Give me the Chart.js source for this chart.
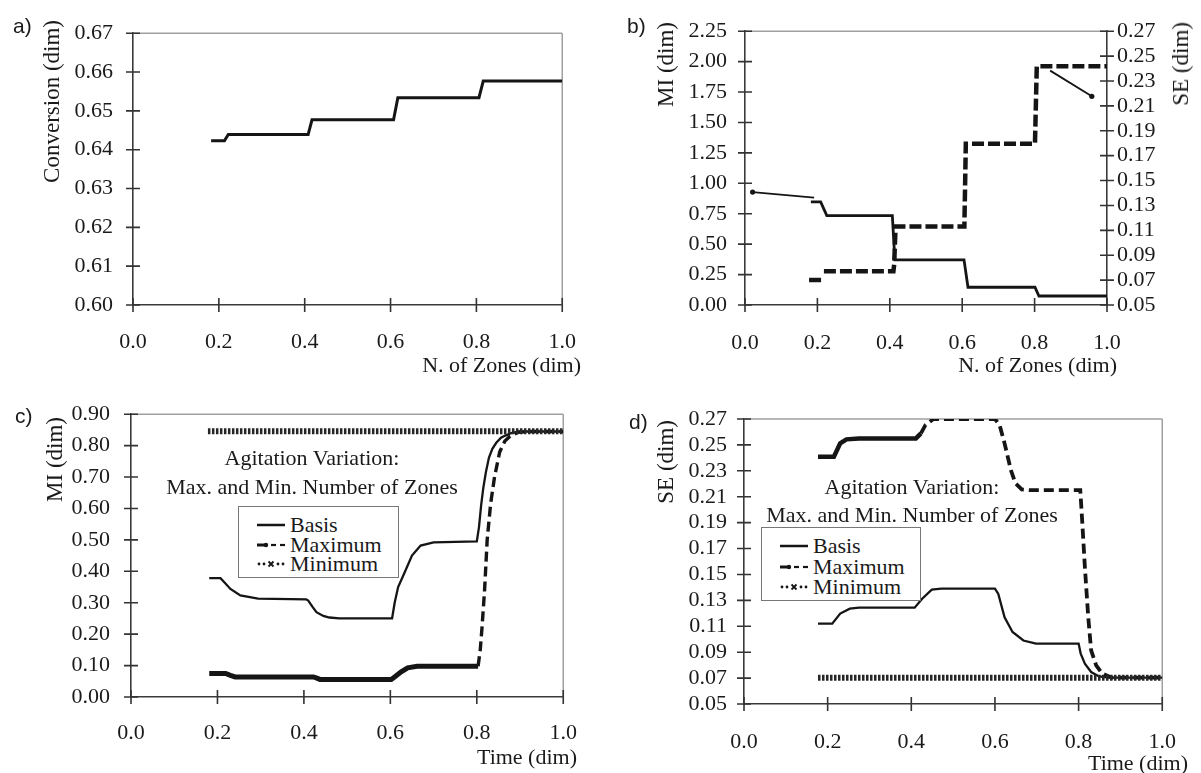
<!DOCTYPE html>
<html>
<head>
<meta charset="utf-8">
<script src="https://cdn.jsdelivr.net/npm/chart.js@4.4.0/dist/chart.umd.min.js"></script>
<style>
html,body{margin:0;padding:0;background:#fff;}
body{width:1201px;height:773px;position:relative;overflow:hidden;font-family:"Liberation Serif","Times New Roman",serif;color:#1a1a1a;}
canvas{position:absolute;}
.t{position:absolute;white-space:nowrap;font-size:22px;line-height:1;}
.c{text-align:center;}
.r{text-align:right;}
.rot{position:absolute;white-space:nowrap;font-size:23px;line-height:1;writing-mode:vertical-rl;transform:rotate(180deg);}
.lbl{position:absolute;font-family:"Liberation Sans",Arial,sans-serif;font-size:21px;line-height:1;}
.legend{position:absolute;border:1px solid #777;background:#fff;box-sizing:border-box;}
.row{position:absolute;left:0;height:22px;line-height:22px;font-size:22px;white-space:nowrap;}
.row svg{position:absolute;top:6px;}
.row span{position:absolute;}
</style>
</head>
<body>
<script>
// ---------- data ----------
// Panel a: conversion vs normalized number of zones
const aZones = [0.182, 0.213, 0.222, 0.408, 0.417, 0.607, 0.617, 0.806, 0.816, 1.0];
const aConversion = [0.6423, 0.6423, 0.6439, 0.6439, 0.6477, 0.6477, 0.6534, 0.6534, 0.6577, 0.6577];

// Panel b: MI (left axis) and SE (right axis) vs number of zones
const bZonesMI = [0.182, 0.209, 0.226, 0.407, 0.414, 0.605, 0.616, 0.801, 0.812, 1.0];
const bMI = [0.848, 0.848, 0.734, 0.734, 0.371, 0.371, 0.146, 0.146, 0.074, 0.074];
const bZonesSE = [0.177, 0.213, 0.215, 0.218, 0.410, 0.412, 0.416, 0.606, 0.610, 0.801, 0.806, 1.0];
const bSE = [0.0700, 0.0700, null, 0.0772, 0.0772, 0.0824, 0.1130, 0.1130, 0.1796, 0.1796, 0.2418, 0.2418];
const bLeader1X = [0.021, 0.191];
const bLeader1MI = [0.928, 0.882];
const bLeader2X = [0.843, 0.958];
const bLeader2MI = [1.926, 1.715];

// Panel c: MI vs time
const cBasisT = [0.181, 0.207, 0.218, 0.230, 0.253, 0.294, 0.405, 0.410, 0.420, 0.429, 0.445, 0.459, 0.482, 0.604, 0.610, 0.618, 0.632, 0.650, 0.670, 0.700, 0.800, 0.805, 0.810, 0.815, 0.821, 0.828, 0.836, 0.845, 0.856, 0.866, 0.880, 0.897, 1.0];
const cBasisMI = [0.378, 0.378, 0.362, 0.344, 0.323, 0.313, 0.311, 0.307, 0.287, 0.270, 0.258, 0.253, 0.250, 0.250, 0.300, 0.350, 0.393, 0.450, 0.482, 0.492, 0.495, 0.540, 0.610, 0.665, 0.715, 0.761, 0.790, 0.809, 0.825, 0.832, 0.840, 0.845, 0.845];
const cMaxT = [0.181, 0.219, 0.230, 0.241, 0.422, 0.430, 0.437, 0.602, 0.612, 0.625, 0.640, 0.662, 0.803, 0.808, 0.812, 0.818, 0.824, 0.832, 0.841, 0.853, 0.865, 0.877, 0.895, 0.920, 1.0];
const cMaxMI = [0.075, 0.075, 0.069, 0.064, 0.064, 0.060, 0.056, 0.056, 0.066, 0.080, 0.093, 0.098, 0.098, 0.150, 0.220, 0.340, 0.500, 0.615, 0.700, 0.780, 0.815, 0.830, 0.842, 0.845, 0.845];
const cMinT = [0.178, 1.0];
const cMinMI = [0.846, 0.846];

// Panel d: SE vs time
const dBasisT = [0.177, 0.211, 0.230, 0.253, 0.275, 0.408, 0.426, 0.449, 0.472, 0.600, 0.608, 0.623, 0.642, 0.668, 0.698, 0.800, 0.805, 0.815, 0.830, 0.849, 0.872, 1.0];
const dBasisSE = [0.1120, 0.1120, 0.1198, 0.1236, 0.1244, 0.1244, 0.1313, 0.1383, 0.1390, 0.1390, 0.1350, 0.1170, 0.1056, 0.0990, 0.0966, 0.0966, 0.0889, 0.0811, 0.0747, 0.0713, 0.0703, 0.0703];
const dMaxT = [0.177, 0.215, 0.230, 0.245, 0.275, 0.411, 0.423, 0.434, 0.453, 0.600, 0.611, 0.623, 0.638, 0.649, 0.664, 0.683, 0.804, 0.808, 0.815, 0.823, 0.830, 0.842, 0.857, 0.879, 1.0];
const dMaxSE = [0.2409, 0.2409, 0.2512, 0.2543, 0.2550, 0.2550, 0.2589, 0.2654, 0.2700, 0.2700, 0.2654, 0.2512, 0.2306, 0.2203, 0.2156, 0.2151, 0.2151, 0.1945, 0.1558, 0.1172, 0.0914, 0.0798, 0.0734, 0.0703, 0.0703];
const dMinT = [0.177, 1.0];
const dMinSE = [0.0703, 0.0703];

// tick labels
const xTickLabels = ['0.0', '0.2', '0.4', '0.6', '0.8', '1.0'];
const aYTickLabels = ['0.60', '0.61', '0.62', '0.63', '0.64', '0.65', '0.66', '0.67'];
const bMITickLabels = ['0.00', '0.25', '0.50', '0.75', '1.00', '1.25', '1.50', '1.75', '2.00', '2.25'];
const seTickLabels = ['0.05', '0.07', '0.09', '0.11', '0.13', '0.15', '0.17', '0.19', '0.21', '0.23', '0.25', '0.27'];
const cMITickLabels = ['0.00', '0.10', '0.20', '0.30', '0.40', '0.50', '0.60', '0.70', '0.80', '0.90'];

// text
const seriesNames = ['Basis', 'Maximum', 'Minimum'];
const noteLines = ['Agitation Variation:', 'Max. and Min. Number of Zones'];

// ---------- helpers ----------
const pts = (xs, ys) => xs.map((x, i) => ({x: x, y: ys[i]}));
const INK = '#151515';

function axis(o) {
  return {
    type: 'linear', position: o.position, min: o.min, max: o.max,
    grid: {display: false, drawTicks: false},
    border: {display: true, color: '#3a3a3a', width: 1.6},
    ticks: {
      padding: o.pad, color: '#1a1a1a', autoSkip: false, maxRotation: 0, minRotation: 0,
      font: {family: 'Liberation Serif', size: 22},
      callback: (v, i) => o.labels[i]
    },
    afterBuildTicks: s => { s.ticks = o.labels.map(l => ({value: parseFloat(l)})); },
    afterFit: s => {
      if (o.width != null) s.width = o.width;
      if (o.height != null) s.height = o.height;
    }
  };
}

const framePlugin = {
  id: 'frameTicks',
  beforeDatasetsDraw(chart, args, opts) {
    const ctx = chart.ctx, a = chart.chartArea;
    ctx.save();
    ctx.strokeStyle = '#a0a0a0';
    ctx.lineWidth = 1.5;
    ctx.beginPath();
    ctx.moveTo(a.left, a.top); ctx.lineTo(a.right, a.top);
    if (!opts.rightAxis) { ctx.moveTo(a.right, a.top); ctx.lineTo(a.right, a.bottom); }
    ctx.stroke();
    ctx.restore();
  },
  afterDraw(chart) {
    const ctx = chart.ctx;
    ctx.save();
    ctx.strokeStyle = '#333';
    ctx.lineWidth = 1.6;
    Object.values(chart.scales).forEach(s => {
      ctx.beginPath();
      s.ticks.forEach(t => {
        const p = s.getPixelForValue(t.value);
        if (s.isHorizontal()) {
          ctx.moveTo(p, s.top - 7); ctx.lineTo(p, s.top + 7);
        } else {
          const x = s.position === 'left' ? s.right : s.left;
          ctx.moveTo(x - 7, p); ctx.lineTo(x + 7, p);
        }
      });
      ctx.stroke();
    });
    ctx.restore();
  }
};

function makeChart(box, datasets, scales, rightAxis) {
  const cv = document.createElement('canvas');
  cv.width = box.w; cv.height = box.h;
  cv.style.left = box.left + 'px'; cv.style.top = box.top + 'px';
  cv.style.width = box.w + 'px'; cv.style.height = box.h + 'px';
  document.body.appendChild(cv);
  return new Chart(cv.getContext('2d'), {
    type: 'line',
    data: {datasets: datasets},
    options: {
      responsive: false, animation: false, devicePixelRatio: 1,
      layout: {padding: box.pad},
      elements: {point: {radius: 0}, line: {tension: 0, borderColor: INK, borderCapStyle: 'butt'}},
      plugins: {legend: {display: false}, tooltip: {enabled: false}, frameTicks: {rightAxis: !!rightAxis}},
      scales: scales
    },
    plugins: [framePlugin]
  });
}

function addText(cls, html, style) {
  const d = document.createElement('div');
  d.className = cls; d.innerHTML = html;
  Object.assign(d.style, style);
  document.body.appendChild(d);
  return d;
}

const minStyle = {borderColor: '#262626', borderWidth: 6, borderDash: [2.5, 1.5], pointRadius: 0};

// ---------- panel a ----------
makeChart({left: 0, top: 0, w: 600, h: 380, pad: {left: 0, right: 24, top: 20, bottom: 0}}, [
  {data: pts(aZones, aConversion), borderColor: INK, borderWidth: 3, pointRadius: 0}
], {
  x: axis({position: 'bottom', min: 0, max: 1, labels: xTickLabels, pad: 24, height: 75}),
  y: axis({position: 'left', min: 0.60, max: 0.67, labels: aYTickLabels, pad: 20, width: 133})
});

// ---------- panel b ----------
makeChart({left: 600, top: 0, w: 601, h: 380, pad: {left: 0, right: 0, top: 22, bottom: 0}}, [
  {data: pts(bZonesMI, bMI), yAxisID: 'y', borderColor: INK, borderWidth: 2.8, pointRadius: 0},
  {data: pts(bZonesSE, bSE), yAxisID: 'y2', borderColor: INK, borderWidth: 4.5, borderDash: [12, 4], pointRadius: 0, spanGaps: false},
  {data: pts(bLeader1X, bLeader1MI), yAxisID: 'y', borderColor: INK, borderWidth: 1.8, pointRadius: [2.6, 0], pointBackgroundColor: INK, pointBorderWidth: 0},
  {data: pts(bLeader2X, bLeader2MI), yAxisID: 'y', borderColor: INK, borderWidth: 1.8, pointRadius: [0, 2.6], pointBackgroundColor: INK, pointBorderWidth: 0}
], {
  x: axis({position: 'bottom', min: 0, max: 1, labels: xTickLabels, pad: 25, height: 75}),
  y: axis({position: 'left', min: 0, max: 2.25, labels: bMITickLabels, pad: 18, width: 145}),
  y2: axis({position: 'right', min: 0.05, max: 0.27, labels: seTickLabels, pad: 10, width: 94})
}, true);

// ---------- panel c ----------
makeChart({left: 0, top: 380, w: 600, h: 393, pad: {left: 0, right: 25, top: 33, bottom: 0}}, [
  Object.assign({data: pts(cMinT, cMinMI)}, minStyle),
  {data: pts(cBasisT, cBasisMI), borderColor: INK, borderWidth: 2.3, pointRadius: 0},
  {data: pts(cMaxT, cMaxMI), borderColor: INK, borderWidth: 5, pointRadius: 0,
   segment: {
     borderDash: ctx => ctx.p0.parsed.x >= 0.80 ? [10, 5] : [],
     borderWidth: ctx => ctx.p0.parsed.x >= 0.80 ? 3.4 : 5
   }}
], {
  x: axis({position: 'bottom', min: 0, max: 1, labels: xTickLabels, pad: 23, height: 76}),
  y: axis({position: 'left', min: 0, max: 0.9, labels: cMITickLabels, pad: 21, width: 131})
});

// ---------- panel d ----------
makeChart({left: 600, top: 380, w: 601, h: 393, pad: {left: 0, right: 14, top: 39, bottom: 0}}, [
  Object.assign({data: pts(dMinT, dMinSE)}, minStyle),
  {data: pts(dBasisT, dBasisSE), borderColor: INK, borderWidth: 2.3, pointRadius: 0},
  {data: pts(dMaxT, dMaxSE), borderColor: INK, borderWidth: 4.5, pointRadius: 0,
   segment: {
     borderDash: ctx => ctx.p0.parsed.x >= 0.423 ? [10, 5] : [],
     borderWidth: ctx => ctx.p0.parsed.x >= 0.423 ? 3.8 : 4.5
   }}
], {
  x: axis({position: 'bottom', min: 0, max: 1, labels: xTickLabels, pad: 25, height: 69}),
  y: axis({position: 'left', min: 0.05, max: 0.27, labels: seTickLabels, pad: 17, width: 144})
});

// ---------- panel letters ----------
addText('lbl', 'a)', {left: '13px', top: '15px'});
addText('lbl', 'b)', {left: '627px', top: '15px'});
addText('lbl', 'c)', {left: '15px', top: '405px'});
addText('lbl', 'd)', {left: '629px', top: '411px'});

// ---------- axis titles ----------
addText('rot', 'Conversion (dim)', {left: '40px', top: '20px'});
addText('rot', 'MI (dim)', {left: '654px', top: '22px'});
addText('rot', 'SE (dim)', {left: '1169px', top: '22px'});
addText('rot', 'MI (dim)', {left: '43px', top: '417px'});
addText('rot', 'SE (dim)', {left: '654px', top: '420px'});
addText('t r', 'N. of Zones (dim)', {right: (1201 - 581) + 'px', top: '354px'});
addText('t r', 'N. of Zones (dim)', {right: (1201 - 1117) + 'px', top: '354px'});
addText('t r', 'Time (dim)', {right: (1201 - 577) + 'px', top: '746px'});
addText('t r', 'Time (dim)', {right: (1201 - 1188) + 'px', top: '752px'});

// ---------- annotations ----------
function note(cx, y1, y2) {
  addText('t c', noteLines[0], {left: (cx - 200) + 'px', width: '400px', top: (y1 - 11) + 'px'});
  addText('t c', noteLines[1], {left: (cx - 200) + 'px', width: '400px', top: (y2 - 11) + 'px'});
}
note(312, 458, 487);
note(912, 487, 515);

// ---------- legends ----------
const samples = [
  '<svg width="30" height="10"><line x1="0" y1="5" x2="28" y2="5" stroke="#151515" stroke-width="2.5"/></svg>',
  '<svg width="30" height="10"><line x1="0" y1="5" x2="9" y2="5" stroke="#151515" stroke-width="3"/><circle cx="9" cy="5" r="2.2" fill="#151515"/><line x1="14" y1="5" x2="19" y2="5" stroke="#151515" stroke-width="2.2"/><line x1="23" y1="5" x2="28" y2="5" stroke="#151515" stroke-width="2.2"/></svg>',
  '<svg width="30" height="10"><circle cx="2" cy="5" r="1.4" fill="#151515"/><circle cx="7" cy="5" r="1.4" fill="#151515"/><path d="M11.5 2.5 L16.5 7.5 M16.5 2.5 L11.5 7.5" stroke="#151515" stroke-width="1.8"/><circle cx="21" cy="5" r="1.4" fill="#151515"/><circle cx="26" cy="5" r="1.4" fill="#151515"/></svg>'
];
function legend(left, top, w, h, rows) {
  const box = addText('legend', '', {left: left + 'px', top: top + 'px', width: w + 'px', height: h + 'px'});
  seriesNames.forEach((name, i) => {
    const r = document.createElement('div');
    r.className = 'row';
    r.style.top = (rows[i] - 11) + 'px';
    r.style.width = w + 'px';
    r.innerHTML = samples[i].replace('<svg', '<svg style="left:18px"') + '<span style="left:51px">' + name + '</span>';
    box.appendChild(r);
  });
}
legend(238, 506, 161, 72, [18, 38, 57]);
legend(761, 527, 160, 74, [18, 39, 59]);
</script>
</body>
</html>
